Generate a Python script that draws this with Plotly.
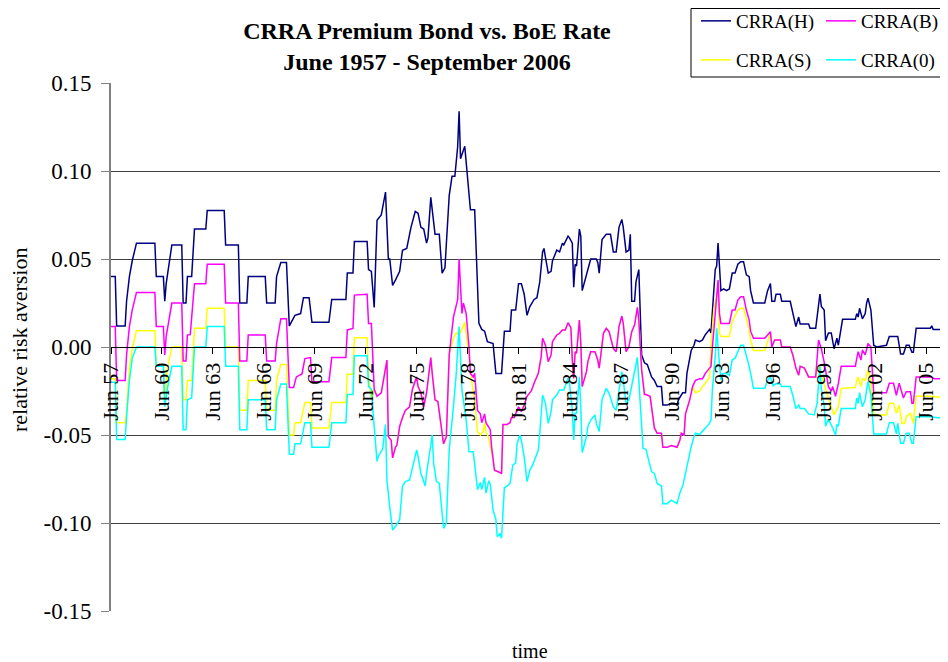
import plotly.graph_objects as go

# months since June 1957 -> relative risk aversion
H_PTS = [
    (0, 0.040), (3, 0.040), (4, 0.012), (10, 0.012), (11, 0.026), (13, 0.040), (15, 0.049),
    (18, 0.059), (31, 0.059), (32, 0.040), (37, 0.040), (38, 0.026), (39, 0.036), (41, 0.048),
    (43, 0.058), (50, 0.058), (51, 0.025), (53, 0.025), (54, 0.040), (57, 0.040), (59, 0.067),
    (67, 0.067), (68, 0.0775), (80, 0.0775), (81, 0.058), (90, 0.058), (91, 0.025), (96, 0.025),
    (97, 0.040), (109, 0.040), (110, 0.025), (116, 0.025), (117, 0.040), (120, 0.048),
    (124, 0.048), (126, 0.012), (130, 0.018), (134, 0.019), (136, 0.028), (140, 0.028),
    (142, 0.014), (154, 0.014), (156, 0.027), (166, 0.027), (167, 0.042), (171, 0.042),
    (172, 0.060), (181, 0.060), (182, 0.044), (184, 0.043), (186, 0.0225), (188, 0.072),
    (191, 0.075), (194, 0.088), (196, 0.050), (197, 0.050), (199, 0.035), (201, 0.038),
    (204, 0.043), (206, 0.055), (209, 0.056), (212, 0.068), (215, 0.077), (217, 0.076),
    (219, 0.068), (221, 0.067), (223, 0.059), (224, 0.062), (226, 0.085), (229, 0.064),
    (232, 0.064), (234, 0.042), (236, 0.045), (239, 0.086), (241, 0.097), (243, 0.097),
    (245, 0.114), (246, 0.134), (247, 0.107), (250, 0.114), (252, 0.098), (254, 0.078),
    (257, 0.078), (260, 0.0134), (262, 0.010), (264, 0.009), (266, 0.003), (270, 0.002),
    (272, -0.015), (276, -0.015), (278, 0.009), (282, 0.009), (283, 0.021), (286, 0.021),
    (288, 0.036), (290, 0.036), (292, 0.030), (294, 0.018), (296, 0.023), (299, 0.027),
    (301, 0.028), (303, 0.037), (305, 0.054), (306, 0.056), (307, 0.051), (309, 0.042),
    (311, 0.043), (312, 0.049), (315, 0.055), (317, 0.054), (319, 0.059), (320, 0.058),
    (323, 0.063), (324, 0.062), (326, 0.059), (327, 0.034), (328, 0.047), (329, 0.046),
    (331, 0.067), (332, 0.063), (333, 0.032), (336, 0.040), (337, 0.044), (339, 0.050),
    (343, 0.050), (344, 0.048), (345, 0.042), (347, 0.061), (350, 0.064), (353, 0.064),
    (355, 0.054), (357, 0.054), (359, 0.068), (361, 0.0725), (362, 0.068), (364, 0.054),
    (366, 0.055), (367, 0.064), (368, 0.026), (370, 0.026), (371, 0.037), (373, 0.044),
    (375, -0.0045), (377, -0.009), (379, -0.010), (382, -0.017), (384, -0.019), (386, -0.0225),
    (389, -0.0225), (390, -0.033), (393, -0.033), (396, -0.032), (398, -0.032), (400, -0.033),
    (401, -0.030), (404, -0.026), (406, -0.026), (407, -0.015), (409, -0.0045), (410, -0.002),
    (412, 0.001), (413, 0.004), (416, 0.003), (418, 0.004), (420, 0.007), (423, 0.010),
    (424, 0.008), (427, 0.044), (428, 0.046), (429, 0.059), (430, 0.046), (431, 0.032),
    (433, 0.033), (435, 0.032), (437, 0.033), (439, 0.042), (441, 0.042), (443, 0.047),
    (445, 0.0485), (447, 0.0485), (449, 0.041), (451, 0.040), (452, 0.032), (454, 0.025),
    (462, 0.025), (464, 0.032), (466, 0.036), (467, 0.026), (469, 0.026), (470, 0.030),
    (473, 0.030), (474, 0.026), (480, 0.026), (482, 0.019), (484, 0.0116), (486, 0.017),
    (487, 0.013), (493, 0.013), (494, 0.0106), (498, 0.0106), (501, 0.030), (502, 0.023),
    (504, 0.021), (505, 0.0036), (507, 0.008), (509, 0.008), (510, 0.002), (511, -0.001),
    (513, 0.005), (514, 0.001), (517, 0.0157), (526, 0.0157), (527, 0.019), (528, 0.017),
    (529, 0.022), (531, 0.016), (533, 0.019), (534, 0.025), (535, 0.0277), (537, 0.021),
    (539, 0.001), (541, 0.000), (548, 0.001), (550, 0.006), (556, 0.006), (558, -0.004),
    (560, -0.004), (562, 0.001), (564, 0.001), (566, -0.003), (567, -0.003), (569, 0.0106),
    (579, 0.0106), (580, 0.012), (581, 0.010), (589, 0.010), (591, 0.0087),
]

B_PTS = [
    (0, 0.0116), (3, 0.0116), (4, -0.019), (10, -0.019), (11, -0.0045), (13, 0.0116),
    (15, 0.021), (18, 0.031), (31, 0.031), (32, 0.0116), (37, 0.0116), (38, -0.0045),
    (39, 0.006), (41, 0.016), (43, 0.025), (50, 0.025), (51, -0.008), (53, -0.008),
    (54, 0.0068), (56, 0.007), (59, 0.036), (67, 0.036), (68, 0.047), (80, 0.047), (81, 0.025),
    (90, 0.025), (91, -0.008), (96, -0.008), (97, 0.0068), (109, 0.0068), (110, -0.008),
    (116, -0.008), (117, 0.002), (120, 0.016), (124, 0.016), (126, -0.023), (129, -0.023),
    (131, -0.017), (135, -0.0153), (137, -0.0066), (141, -0.006), (142, -0.0197),
    (154, -0.0197), (156, -0.006), (166, -0.006), (167, 0.0097), (171, 0.0105), (172, 0.0295),
    (181, 0.030), (182, 0.0134), (184, 0.0134), (186, -0.024), (188, -0.028), (191, -0.026),
    (193, -0.017), (195, -0.0074), (196, -0.051), (198, -0.053), (199, -0.063), (201, -0.057),
    (202, -0.056), (204, -0.045), (206, -0.040), (208, -0.036), (211, -0.034), (213, -0.024),
    (216, -0.017), (217, -0.0225), (219, -0.026), (221, -0.034), (223, -0.026), (226, -0.006),
    (227, -0.015), (229, -0.030), (231, -0.031), (233, -0.043), (235, -0.055), (237, -0.051),
    (239, -0.0045), (242, 0.017), (245, 0.027), (246, 0.050), (248, 0.019), (249, 0.025),
    (251, 0.019), (253, 0.000), (254, -0.015), (256, -0.017), (257, -0.015), (259, -0.036),
    (261, -0.038), (262, -0.043), (264, -0.038), (265, -0.043), (267, -0.046), (268, -0.047),
    (269, -0.057), (271, -0.070), (274, -0.071), (276, -0.072), (277, -0.044), (280, -0.044),
    (282, -0.043), (283, -0.040), (285, -0.040), (288, -0.034), (290, -0.0367), (292, -0.033),
    (294, -0.028), (297, -0.025), (299, -0.0206), (302, -0.015), (304, -0.0055), (305, 0.005),
    (307, 0.001), (309, -0.0083), (311, -0.0045), (312, 0.003), (315, 0.0068), (317, 0.0078),
    (319, 0.0097), (321, 0.0097), (323, 0.0138), (325, 0.011), (326, -0.0074), (327, -0.0178),
    (328, -0.0027), (329, -0.0036), (331, 0.0153), (332, 0.002), (333, -0.0225), (336, -0.014),
    (337, -0.0083), (339, -0.0027), (342, -0.0027), (344, -0.0074), (345, -0.012),
    (348, 0.0078), (350, 0.0106), (352, 0.0087), (355, -0.0008), (357, -0.0027), (359, 0.0116),
    (361, 0.0176), (362, 0.0134), (364, -0.0027), (366, 0.0002), (368, 0.0087), (370, 0.0125),
    (372, 0.0225), (373, 0.0153), (375, -0.013), (377, -0.027), (378, -0.027), (381, -0.028),
    (382, -0.034), (384, -0.046), (386, -0.049), (389, -0.049), (390, -0.057), (393, -0.057),
    (396, -0.056), (400, -0.057), (402, -0.053), (403, -0.049), (405, -0.050), (406, -0.038),
    (409, -0.030), (411, -0.0225), (413, -0.019), (416, -0.018), (418, -0.018), (420, -0.015),
    (423, -0.012), (424, -0.011), (425, -0.0004), (427, 0.019), (429, 0.038), (430, 0.019),
    (431, 0.0134), (437, 0.0134), (439, 0.021), (441, 0.021), (443, 0.0267), (445, 0.0286),
    (447, 0.0286), (449, 0.021), (451, 0.0153), (452, 0.009), (454, 0.005), (462, 0.005),
    (464, 0.0068), (466, 0.0087), (467, 0.000), (469, 0.004), (473, 0.004), (474, 0.000),
    (480, 0.000), (482, -0.005), (484, -0.012), (486, -0.016), (487, -0.011), (490, -0.012),
    (493, -0.017), (498, -0.017), (500, 0.004), (502, -0.001), (504, -0.0086), (507, -0.0225),
    (509, -0.025), (510, -0.0225), (512, -0.028), (514, -0.0208), (516, -0.011), (526, -0.011),
    (527, -0.0066), (528, -0.0027), (530, -0.0074), (531, -0.0017), (533, -0.0045),
    (535, 0.002), (537, 0.000), (539, -0.026), (548, -0.026), (550, -0.0206), (553, -0.0206),
    (555, -0.0274), (557, -0.0206), (559, -0.0274), (560, -0.029), (562, -0.0254),
    (565, -0.0254), (566, -0.032), (567, -0.032), (569, -0.017), (579, -0.017), (582, -0.018),
    (591, -0.018),
]

S_PTS = [
    (0, -0.018), (3, -0.018), (4, -0.043), (10, -0.043), (11, -0.037), (13, -0.011),
    (15, -0.001), (18, 0.0093), (31, 0.0093), (32, -0.010), (37, -0.010), (38, -0.033),
    (40, -0.012), (43, 0.000), (50, 0.000), (51, -0.030), (53, -0.030), (54, -0.019),
    (57, -0.019), (59, 0.0106), (67, 0.0106), (68, 0.022), (80, 0.022), (81, 0.000), (90, 0.000),
    (91, -0.036), (96, -0.036), (97, -0.019), (109, -0.019), (110, -0.036), (116, -0.036),
    (117, -0.019), (120, -0.010), (124, -0.010), (126, -0.050), (129, -0.050), (130, -0.043),
    (134, -0.043), (137, -0.0316), (141, -0.0316), (142, -0.046), (154, -0.046),
    (156, -0.0316), (166, -0.0316), (167, -0.0155), (171, -0.0155), (172, 0.0053),
    (181, 0.0053), (182, -0.017), (184, -0.030), (186, -0.024), (188, -0.028), (191, -0.026),
    (193, -0.017), (195, -0.0074), (196, -0.051), (198, -0.053), (199, -0.063), (201, -0.057),
    (202, -0.056), (204, -0.045), (206, -0.040), (208, -0.036), (211, -0.034), (213, -0.024),
    (216, -0.017), (217, -0.0225), (219, -0.026), (221, -0.034), (223, -0.026), (226, -0.006),
    (227, -0.015), (229, -0.030), (231, -0.031), (233, -0.043), (235, -0.055), (237, -0.051),
    (239, -0.0045), (242, 0.005), (244, 0.008), (246, 0.007), (248, 0.010), (250, 0.014),
    (251, 0.008), (253, -0.005), (255, -0.020), (257, -0.030), (259, -0.048), (261, -0.050),
    (263, -0.048), (264, -0.043), (265, -0.048), (267, -0.052), (269, -0.060), (271, -0.070),
    (274, -0.071), (276, -0.072), (277, -0.044), (280, -0.044), (282, -0.043), (283, -0.040),
    (285, -0.040), (288, -0.034), (290, -0.0367), (292, -0.033), (294, -0.028), (297, -0.025),
    (299, -0.0206), (302, -0.015), (304, -0.0055), (305, 0.005), (307, 0.001), (309, -0.0083),
    (311, -0.0045), (312, 0.003), (315, 0.0068), (317, 0.0078), (319, 0.0097), (321, 0.0097),
    (323, 0.0138), (325, 0.011), (326, -0.0074), (327, -0.0178), (328, -0.0027),
    (329, -0.0036), (331, 0.0153), (332, 0.002), (333, -0.0225), (336, -0.014), (337, -0.0083),
    (339, -0.0027), (342, -0.0027), (344, -0.0074), (345, -0.012), (348, 0.0078),
    (350, 0.0106), (352, 0.0087), (355, -0.0008), (357, -0.0027), (359, 0.0116), (361, 0.0176),
    (362, 0.0134), (364, -0.0027), (366, 0.0002), (368, 0.0087), (370, 0.0125), (372, 0.0225),
    (373, 0.0153), (375, -0.013), (377, -0.027), (378, -0.027), (381, -0.028), (382, -0.034),
    (384, -0.046), (386, -0.049), (389, -0.049), (390, -0.057), (393, -0.057), (396, -0.056),
    (400, -0.057), (402, -0.053), (403, -0.049), (405, -0.050), (406, -0.038), (409, -0.030),
    (411, -0.0225), (413, -0.026), (416, -0.025), (418, -0.0225), (420, -0.0206),
    (423, -0.017), (424, 0.000), (426, 0.021), (429, 0.032), (430, 0.0078), (431, 0.006),
    (437, 0.006), (439, 0.0144), (443, 0.021), (445, 0.022), (447, 0.022), (449, 0.0153),
    (451, 0.0097), (452, 0.004), (454, -0.002), (462, -0.002), (464, 0.003), (466, 0.0078),
    (467, 0.000), (469, 0.004), (473, 0.004), (474, 0.000), (480, 0.000), (482, -0.005),
    (484, -0.012), (486, -0.016), (487, -0.011), (490, -0.012), (493, -0.017), (498, -0.017),
    (500, -0.011), (505, -0.0244), (507, -0.030), (509, -0.034), (511, -0.0386), (514, -0.034),
    (516, -0.0235), (526, -0.023), (527, -0.019), (528, -0.017), (530, -0.0225), (531, -0.018),
    (533, -0.019), (535, -0.013), (537, -0.019), (539, -0.0386), (548, -0.0386), (550, -0.032),
    (553, -0.032), (555, -0.0377), (557, -0.033), (559, -0.0434), (561, -0.0434),
    (562, -0.0396), (565, -0.0377), (567, -0.0434), (569, -0.028), (579, -0.028), (591, -0.029),
]

Z_PTS = [
    (0, -0.020), (3, -0.020), (4, -0.0525), (10, -0.0525), (11, -0.0396), (13, -0.019),
    (15, -0.0064), (18, 0.000), (31, 0.000), (32, -0.011), (37, -0.011), (38, -0.034),
    (40, -0.023), (43, -0.011), (50, -0.011), (51, -0.047), (53, -0.047), (54, -0.030),
    (57, -0.029), (59, 0.000), (67, 0.000), (68, 0.0116), (80, 0.0116), (81, -0.011),
    (90, -0.011), (91, -0.047), (96, -0.047), (97, -0.030), (109, -0.030), (110, -0.047),
    (116, -0.047), (117, -0.030), (120, -0.021), (124, -0.021), (126, -0.061), (129, -0.061),
    (130, -0.055), (134, -0.055), (137, -0.043), (141, -0.043), (142, -0.057), (154, -0.057),
    (156, -0.043), (166, -0.043), (167, -0.027), (171, -0.027), (172, -0.005), (181, -0.005),
    (182, -0.0225), (184, -0.024), (186, -0.045), (188, -0.065), (189, -0.062), (192, -0.058),
    (194, -0.044), (195, -0.0756), (197, -0.091), (199, -0.104), (201, -0.102), (204, -0.098),
    (206, -0.079), (208, -0.0765), (211, -0.0756), (213, -0.068), (216, -0.0585), (217, -0.062),
    (219, -0.072), (220, -0.074), (222, -0.079), (223, -0.072), (225, -0.060), (227, -0.050),
    (228, -0.066), (230, -0.0765), (232, -0.0775), (233, -0.087), (235, -0.103), (237, -0.100),
    (239, -0.0585), (242, -0.034), (244, -0.015), (246, 0.0116), (248, -0.0244), (251, -0.0415),
    (253, -0.0595), (256, -0.0595), (257, -0.066), (259, -0.081), (261, -0.077), (262, -0.081),
    (264, -0.074), (265, -0.083), (267, -0.076), (268, -0.078), (270, -0.0926), (272, -0.098),
    (273, -0.1078), (275, -0.106), (276, -0.1087), (278, -0.080), (280, -0.079), (282, -0.0775),
    (284, -0.067), (286, -0.066), (287, -0.0547), (289, -0.050), (290, -0.053), (292, -0.0623),
    (294, -0.0765), (296, -0.070), (298, -0.067), (300, -0.0623), (302, -0.0585), (303, -0.049),
    (305, -0.0273), (307, -0.032), (309, -0.0434), (311, -0.0367), (312, -0.030),
    (315, -0.0273), (317, -0.0244), (320, -0.0244), (323, -0.0178), (324, -0.0206),
    (326, -0.0358), (327, -0.0528), (328, -0.0377), (329, -0.0377), (331, -0.0169),
    (332, -0.034), (333, -0.060), (336, -0.051), (337, -0.045), (339, -0.0415), (342, -0.0386),
    (343, -0.0434), (345, -0.048), (347, -0.030), (350, -0.0235), (352, -0.0263), (355, -0.034),
    (357, -0.036), (359, -0.0244), (361, -0.014), (362, -0.0188), (364, -0.032), (366, -0.030),
    (367, -0.0263), (370, -0.014), (372, -0.0059), (373, -0.0188), (375, -0.045),
    (376, -0.0576), (378, -0.058), (380, -0.064), (382, -0.0708), (384, -0.0718),
    (386, -0.0775), (389, -0.079), (390, -0.089), (393, -0.089), (396, -0.087), (398, -0.088),
    (400, -0.089), (402, -0.083), (404, -0.079), (406, -0.0718), (407, -0.068), (409, -0.0585),
    (410, -0.0566), (412, -0.051), (413, -0.049), (416, -0.0496), (418, -0.048), (420, -0.046),
    (423, -0.0434), (424, -0.0415), (425, -0.0244), (427, -0.0055), (428, 0.0106), (429, 0.000),
    (431, -0.0188), (432, -0.015), (435, -0.015), (437, -0.016), (439, -0.0074), (441, -0.0064),
    (443, -0.0027), (445, 0.001), (447, 0.001), (449, -0.0045), (451, -0.011), (453, -0.019),
    (454, -0.0235), (462, -0.0235), (464, -0.019), (466, -0.017), (468, -0.022), (470, -0.0208),
    (473, -0.021), (474, -0.0225), (480, -0.0225), (482, -0.028), (484, -0.035), (486, -0.033),
    (487, -0.035), (490, -0.035), (493, -0.038), (497, -0.0386), (499, -0.032), (501, -0.011),
    (502, -0.024), (504, -0.0335), (505, -0.045), (507, -0.041), (509, -0.044), (510, -0.046),
    (512, -0.050), (513, -0.044), (514, -0.045), (516, -0.035), (526, -0.035), (527, -0.029),
    (528, -0.032), (529, -0.026), (531, -0.034), (533, -0.030), (534, -0.0244), (535, -0.0197),
    (537, -0.0273), (539, -0.0494), (548, -0.0494), (550, -0.043), (553, -0.043),
    (555, -0.0494), (556, -0.0434), (558, -0.0547), (560, -0.0547), (562, -0.049),
    (564, -0.049), (566, -0.0547), (567, -0.0547), (569, -0.0396), (579, -0.0396), (591, -0.041),
]

X_TICK_MONTHS = [0, 36, 72, 108, 144, 180, 216, 252, 288, 324, 360, 396, 432, 468, 504, 540, 576]
X_TICK_LABELS = ["Jun 57", "Jun 60", "Jun 63", "Jun 66", "Jun 69", "Jun 72", "Jun 75", "Jun 78",
                 "Jun 81", "Jun 84", "Jun 87", "Jun 90", "Jun 93", "Jun 96", "Jun 99", "Jun 02",
                 "Jun 05"]
Y_TICKS = [-0.15, -0.10, -0.05, 0.0, 0.05, 0.10, 0.15]
Y_TICK_LABELS = ["-0.15", "-0.10", "-0.05", "0.00", "0.05", "0.10", "0.15"]

SERIF = "Liberation Serif, Times New Roman, serif"

# (name, points, colour, legend, rank) -- S is drawn under B, as in the original
SERIES = [
    ("CRRA(H)", H_PTS, "#000080", "legend", 1),
    ("CRRA(S)", S_PTS, "#FFFF00", "legend2", 3),
    ("CRRA(B)", B_PTS, "#FF00FF", "legend", 2),
    ("CRRA(0)", Z_PTS, "#00FFFF", "legend2", 4),
]

fig = go.Figure()
for name, pts, colour, leg, rank in SERIES:
    xs, ys = zip(*pts)
    fig.add_trace(go.Scatter(x=list(xs), y=list(ys), mode="lines", name=name,
                             line=dict(color=colour, width=1.5), legend=leg,
                             legendrank=rank))

# the page body keeps its default 8px margin, so the figure is drawn 8px in
OFF = 8
W, H = 948 - OFF, 662 - OFF
L, R, T, B = 111 - OFF, 0, 83 - OFF, 51
ph = H - T - B
pw = W - L - R


def py(screen_y):
    return (H - B - (screen_y - OFF)) / ph


def px(screen_x):
    return (screen_x - OFF - L) / pw


leg_common = dict(orientation="h", xanchor="left", yanchor="middle", bgcolor="rgba(0,0,0,0)",
                  borderwidth=0, font=dict(family=SERIF, size=19, color="black"),
                  entrywidth=80, entrywidthmode="pixels", tracegroupgap=0, itemwidth=30)

fig.update_layout(
    width=W, height=H,
    margin=dict(l=L, r=R, t=T, b=B, autoexpand=False),
    paper_bgcolor="white", plot_bgcolor="white",
    title=dict(text="CRRA Premium Bond vs. BoE Rate<br>June 1957 - September 2006",
               x=419 / W, xanchor="center", y=1 - 31 / H, yanchor="middle",
               font=dict(family=SERIF, size=24, color="black", weight="bold")),
    showlegend=True,
    legend=dict(x=px(696), y=py(21), **leg_common),
    legend2=dict(x=px(696), y=py(60), **leg_common),
    xaxis=dict(range=[0, 591.5], tickvals=X_TICK_MONTHS, ticktext=X_TICK_LABELS,
               tickangle=-90, ticks="outside", ticklen=6, tickcolor="black",
               showline=True, linecolor="black", linewidth=1, showgrid=False,
               zeroline=False, anchor="free", position=0.5,
               tickfont=dict(family=SERIF, size=22, color="black")),
    yaxis=dict(range=[-0.15, 0.15], tickvals=Y_TICKS, ticktext=Y_TICK_LABELS,
               ticks="outside", ticklen=8, tickcolor="#808080", ticklabelstandoff=5,
               showline=True, linecolor="#808080", linewidth=2,
               showgrid=True, gridcolor="#404040", gridwidth=1, zeroline=False,
               tickfont=dict(family=SERIF, size=23, color="black")),
    shapes=[dict(type="rect", xref="paper", yref="paper", x0=px(691), x1=px(947),
                 y0=py(77), y1=py(8.5), line=dict(color="black", width=1),
                 fillcolor="rgba(0,0,0,0)", layer="above")],
    annotations=[
        dict(text="time", xref="paper", yref="paper", x=px(530), y=py(651),
             xanchor="center", yanchor="middle", showarrow=False,
             font=dict(family=SERIF, size=20, color="black")),
        dict(text="relative risk aversion", xref="paper", yref="paper", x=px(19), y=py(340),
             xanchor="center", yanchor="middle", showarrow=False, textangle=-90,
             font=dict(family=SERIF, size=22, color="black")),
    ],
)

fig.write_html("out.html")
